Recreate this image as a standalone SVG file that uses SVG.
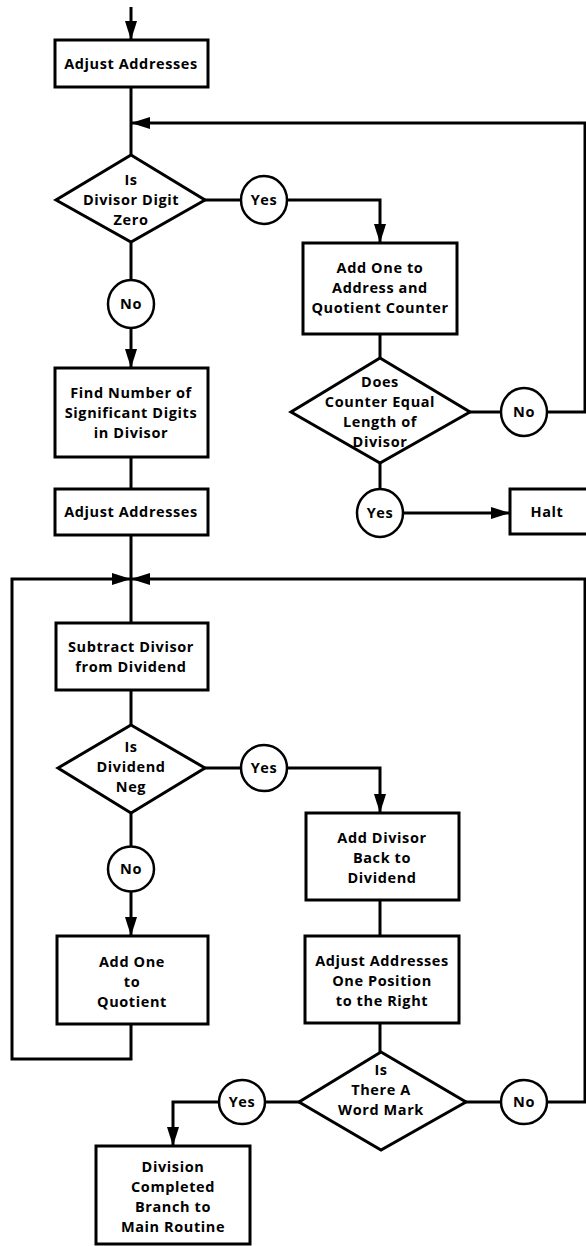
<svg xmlns="http://www.w3.org/2000/svg" width="586" height="1246" viewBox="0 0 586 1246">
<style>
.box{fill:#fff;stroke:#000;stroke-width:3}
.dia{fill:#fff;stroke:#000;stroke-width:3;stroke-linejoin:miter}
.circ{fill:#fff;stroke:#000;stroke-width:2.5}
.ln{fill:none;stroke:#000;stroke-width:3}
text{font-family:"Open Sans","Liberation Sans",sans-serif;font-weight:bold;font-size:14.5px;letter-spacing:0.6px;text-anchor:middle;fill:#000}
</style>
<defs>
<marker id="ah" markerUnits="userSpaceOnUse" markerWidth="19" markerHeight="12" refX="19" refY="6" orient="auto">
<path d="M0,0 L19,6 L0,12 z" fill="#000"/>
</marker>
</defs>
<rect width="586" height="1246" fill="#fff"/>
<g id="connectors">
<line class="ln" x1="131" y1="7" x2="131" y2="40" marker-end="url(#ah)"/>
<line class="ln" x1="131" y1="87" x2="131" y2="155"/>
<path class="ln" d="M547,412 H585 V123 H131" marker-end="url(#ah)"/>
<path class="ln" d="M204,200 H241"/>
<path class="ln" d="M287,200 H380 V243" marker-end="url(#ah)"/>
<line class="ln" x1="131" y1="242" x2="131" y2="280"/>
<line class="ln" x1="131" y1="328" x2="131" y2="368" marker-end="url(#ah)"/>
<line class="ln" x1="380" y1="334" x2="380" y2="358"/>
<line class="ln" x1="470" y1="412" x2="501" y2="412"/>
<line class="ln" x1="380" y1="463" x2="380" y2="489"/>
<line class="ln" x1="404" y1="513" x2="510" y2="513" marker-end="url(#ah)"/>
<line class="ln" x1="131" y1="457" x2="131" y2="489"/>
<line class="ln" x1="131" y1="535" x2="131" y2="623"/>
<path class="ln" d="M131,1024 V1059 H12 V579 H131" marker-end="url(#ah)"/>
<path class="ln" d="M547,1102 H585 V579 H131" marker-end="url(#ah)"/>
<line class="ln" x1="131" y1="690" x2="131" y2="725"/>
<line class="ln" x1="205" y1="768" x2="241" y2="768"/>
<path class="ln" d="M288,768 H380 V813" marker-end="url(#ah)"/>
<line class="ln" x1="131" y1="813" x2="131" y2="847"/>
<line class="ln" x1="131" y1="891" x2="131" y2="936" marker-end="url(#ah)"/>
<line class="ln" x1="380" y1="900" x2="380" y2="936"/>
<line class="ln" x1="380" y1="1023" x2="380" y2="1052"/>
<line class="ln" x1="299" y1="1102" x2="265" y2="1102"/>
<line class="ln" x1="466" y1="1102" x2="501" y2="1102"/>
<path class="ln" d="M219,1102 H173 V1146" marker-end="url(#ah)"/>
</g>
<g id="adjust1">
<rect class="box" x="55" y="40" width="153" height="47"/>
<text x="131" y="69">Adjust Addresses</text>
</g>
<g id="dec-zero">
<polygon class="dia" points="131,155 205,200 131,242 56,200"/>
<text x="131" y="185">Is</text>
<text x="131" y="205">Divisor Digit</text>
<text x="131" y="225">Zero</text>
</g>
<g id="yes1">
<ellipse class="circ" cx="264" cy="200" rx="23" ry="24"/>
<text x="264" y="205">Yes</text>
</g>
<g id="no1">
<ellipse class="circ" cx="131" cy="304" rx="23" ry="24"/>
<text x="131" y="309">No</text>
</g>
<g id="add-one-addr">
<rect class="box" x="303" y="243" width="154" height="91"/>
<text x="380" y="273">Add One to</text>
<text x="380" y="293">Address and</text>
<text x="380" y="313">Quotient Counter</text>
</g>
<g id="dec-counter">
<polygon class="dia" points="380,358 470,412 380,463 291,412"/>
<text x="380" y="387">Does</text>
<text x="380" y="407">Counter Equal</text>
<text x="380" y="427">Length of</text>
<text x="380" y="447">Divisor</text>
</g>
<g id="no2">
<ellipse class="circ" cx="524" cy="412" rx="23" ry="24"/>
<text x="524" y="417">No</text>
</g>
<g id="yes2">
<ellipse class="circ" cx="380" cy="513" rx="23" ry="24"/>
<text x="380" y="518">Yes</text>
</g>
<g id="halt">
<rect class="box" x="510" y="489" width="80" height="45"/>
<text x="547" y="517">Halt</text>
</g>
<g id="find-digits">
<rect class="box" x="55" y="368" width="153" height="89"/>
<text x="131" y="398">Find Number of</text>
<text x="131" y="418">Significant Digits</text>
<text x="131" y="438">in Divisor</text>
</g>
<g id="adjust2">
<rect class="box" x="55" y="489" width="153" height="46"/>
<text x="131" y="517">Adjust Addresses</text>
</g>
<g id="subtract">
<rect class="box" x="56" y="623" width="152" height="67"/>
<text x="131" y="652">Subtract Divisor</text>
<text x="131" y="672">from Dividend</text>
</g>
<g id="dec-neg">
<polygon class="dia" points="131,725 205,768 131,813 58,768"/>
<text x="131" y="752">Is</text>
<text x="131" y="772">Dividend</text>
<text x="131" y="792">Neg</text>
</g>
<g id="yes3">
<ellipse class="circ" cx="264" cy="768" rx="23" ry="23"/>
<text x="264" y="773">Yes</text>
</g>
<g id="no3">
<ellipse class="circ" cx="131" cy="869" rx="23" ry="22.5"/>
<text x="131" y="874">No</text>
</g>
<g id="add-back">
<rect class="box" x="306" y="813" width="153" height="87"/>
<text x="382" y="843">Add Divisor</text>
<text x="382" y="863">Back to</text>
<text x="382" y="883">Dividend</text>
</g>
<g id="add-one-q">
<rect class="box" x="57" y="936" width="151" height="88"/>
<text x="132" y="967">Add One</text>
<text x="132" y="987">to</text>
<text x="132" y="1007">Quotient</text>
</g>
<g id="adjust-right">
<rect class="box" x="305" y="936" width="154" height="87"/>
<text x="382" y="966">Adjust Addresses</text>
<text x="382" y="986">One Position</text>
<text x="382" y="1006">to the Right</text>
</g>
<g id="dec-wm">
<polygon class="dia" points="381,1052 466,1102 381,1150 299,1102"/>
<text x="381" y="1075">Is</text>
<text x="381" y="1095">There A</text>
<text x="381" y="1115">Word Mark</text>
</g>
<g id="yes4">
<ellipse class="circ" cx="242" cy="1102" rx="23" ry="22"/>
<text x="242" y="1107">Yes</text>
</g>
<g id="no4">
<ellipse class="circ" cx="524" cy="1102" rx="23" ry="22"/>
<text x="524" y="1107">No</text>
</g>
<g id="done">
<rect class="box" x="96" y="1146" width="154" height="98"/>
<text x="173" y="1172">Division</text>
<text x="173" y="1192">Completed</text>
<text x="173" y="1212">Branch to</text>
<text x="173" y="1232">Main Routine</text>
</g>
</svg>
